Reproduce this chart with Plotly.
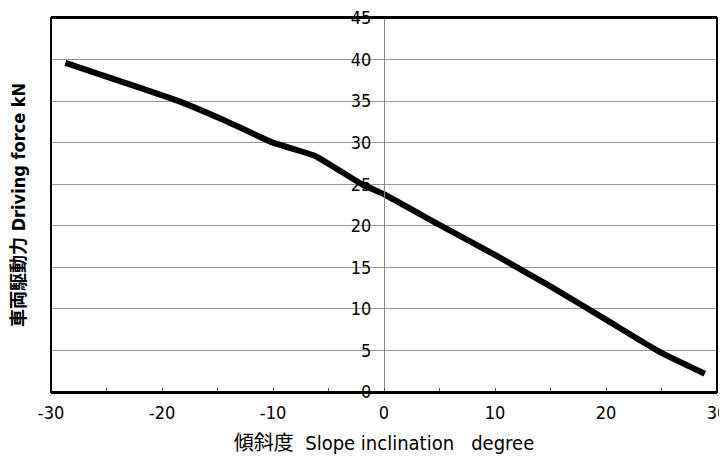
import plotly.graph_objects as go

slope_deg = [-28.7, -24.0, -18.5, -14.4, -10.0, -6.2, -2.0, 0.0, 5.0, 10.0, 15.0, 20.0, 25.0, 28.9]
driving_force_kN = [39.6, 37.5, 35.0, 32.7, 30.0, 28.4, 25.0, 23.8, 20.1, 16.5, 12.7, 8.7, 4.7, 2.2]

x_ticks = [-30, -20, -10, 0, 10, 20, 30]
x_tick_text = ["-30", "-20", "-10", "0", "10", "20", "30"]
y_ticks = [0, 5, 10, 15, 20, 25, 30, 35, 40, 45]

FONT = "DejaVu Sans Condensed, Liberation Sans Narrow, Arial Narrow, sans-serif"

# page body has an 8px default margin; figure sized to compensate
W, H = 719, 449
L, R, T, B = 43, 10, 10, 65

fig = go.Figure()
fig.add_trace(go.Scatter(
    x=slope_deg, y=driving_force_kN, mode="lines",
    line=dict(color="black", width=6, shape="spline", smoothing=0.4),
    showlegend=False, hoverinfo="skip",
))

fig.update_layout(
    width=W, height=H,
    margin=dict(l=L, r=R, t=T, b=B),
    paper_bgcolor="white", plot_bgcolor="white",
    font=dict(family=FONT, size=18, color="black"),
    xaxis=dict(
        range=[-30, 30], tickvals=x_ticks, ticktext=x_tick_text, ticks="",
        showgrid=False, automargin=False, ticklabeloverflow="allow",
        ticklabelstandoff=3,
        zeroline=False, showline=True, linecolor="black", linewidth=2,
        mirror=True,
        tickfont=dict(family=FONT, size=18, color="black"),
        minor=dict(ticks="inside", dtick=5, ticklen=4, tickcolor="#555", tickwidth=1),
        title=dict(text="傾斜度  Slope inclination   degree",
                   font=dict(family="DejaVu Sans Condensed, Noto Sans CJK JP, sans-serif", size=20, color="black"),
                   standoff=14),
    ),
    yaxis=dict(
        range=[0, 45], tickvals=y_ticks, anchor="free", position=0.5,
        showline=True, linecolor="#888", linewidth=1, automargin=False,
        ticklabeloverflow="allow",
        showgrid=True, gridcolor="#999", gridwidth=1,
        zeroline=False, ticks="", ticklabelstandoff=9,
        tickfont=dict(family=FONT, size=18, color="black"),
    ),
    shapes=[dict(type="rect", xref="paper", yref="paper", x0=0, x1=1, y0=0, y1=1,
                 line=dict(color="black", width=2), layer="above")],
    annotations=[dict(
        text="<b>車両駆動力 Driving force kN</b>", xref="paper", yref="paper",
        x=(10 - L) / (W - L - R), y=0.5, textangle=-90, showarrow=False,
        xanchor="center", yanchor="middle",
        font=dict(family="DejaVu Sans Condensed, Noto Sans CJK JP, sans-serif", size=18, color="black"),
    )],
)

fig.write_html("out.html")
